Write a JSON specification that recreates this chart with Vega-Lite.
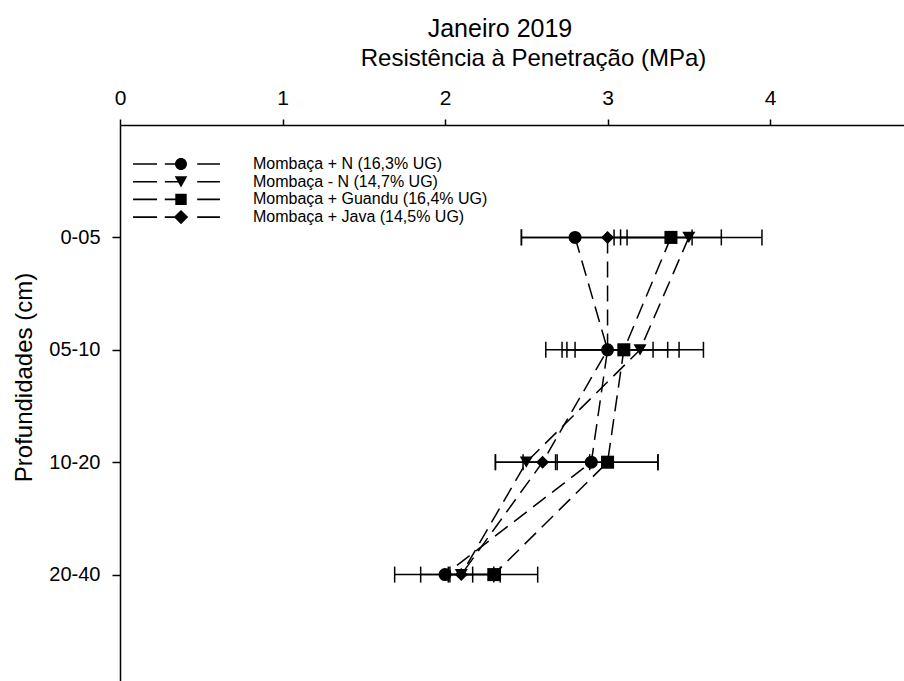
{
  "$schema": "https://vega.github.io/schema/vega-lite/v6.json",
  "description": "Resistência à penetração por profundidade - Janeiro 2019",
  "width": 784,
  "height": 562,
  "autosize": "none",
  "padding": {"left": 120, "top": 125, "right": 0, "bottom": 0},
  "title": {
    "text": "Janeiro 2019",
    "fontSize": 25,
    "fontWeight": "normal",
    "font": "Liberation Sans",
    "color": "black",
    "dx": -12
  },
  "data": {
    "values": [
      {"tratamento": "Mombaça + N (16,3% UG)", "profundidade": "0-05", "rp": 2.80, "rp_min": 2.47, "rp_max": 3.12},
      {"tratamento": "Mombaça + N (16,3% UG)", "profundidade": "05-10", "rp": 3.00, "rp_min": 2.62, "rp_max": 3.37},
      {"tratamento": "Mombaça + N (16,3% UG)", "profundidade": "10-20", "rp": 2.90, "rp_min": 2.48, "rp_max": 3.31},
      {"tratamento": "Mombaça + N (16,3% UG)", "profundidade": "20-40", "rp": 2.00, "rp_min": 1.69, "rp_max": 2.30},
      {"tratamento": "Mombaça - N (14,7% UG)", "profundidade": "0-05", "rp": 3.50, "rp_min": 3.04, "rp_max": 3.95},
      {"tratamento": "Mombaça - N (14,7% UG)", "profundidade": "05-10", "rp": 3.20, "rp_min": 2.80, "rp_max": 3.59},
      {"tratamento": "Mombaça - N (14,7% UG)", "profundidade": "10-20", "rp": 2.50, "rp_min": 2.31, "rp_max": 2.68},
      {"tratamento": "Mombaça - N (14,7% UG)", "profundidade": "20-40", "rp": 2.10, "rp_min": 2.03, "rp_max": 2.17},
      {"tratamento": "Mombaça + Guandu (16,4% UG)", "profundidade": "0-05", "rp": 3.39, "rp_min": 3.08, "rp_max": 3.70},
      {"tratamento": "Mombaça + Guandu (16,4% UG)", "profundidade": "05-10", "rp": 3.10, "rp_min": 2.75, "rp_max": 3.44},
      {"tratamento": "Mombaça + Guandu (16,4% UG)", "profundidade": "10-20", "rp": 3.00, "rp_min": 2.69, "rp_max": 3.31},
      {"tratamento": "Mombaça + Guandu (16,4% UG)", "profundidade": "20-40", "rp": 2.30, "rp_min": 2.02, "rp_max": 2.57},
      {"tratamento": "Mombaça + Java (14,5% UG)", "profundidade": "0-05", "rp": 3.00, "rp_min": 2.47, "rp_max": 3.52},
      {"tratamento": "Mombaça + Java (14,5% UG)", "profundidade": "05-10", "rp": 3.00, "rp_min": 2.72, "rp_max": 3.28},
      {"tratamento": "Mombaça + Java (14,5% UG)", "profundidade": "10-20", "rp": 2.60, "rp_min": 2.31, "rp_max": 2.89},
      {"tratamento": "Mombaça + Java (14,5% UG)", "profundidade": "20-40", "rp": 2.10, "rp_min": 1.85, "rp_max": 2.34}
    ]
  },
  "encoding": {
    "y": {
      "field": "profundidade",
      "type": "nominal",
      "scale": {"type": "point", "domain": ["0-05", "05-10", "10-20", "20-40"], "padding": 1},
      "axis": {
        "title": "Profundidades (cm)",
        "titleFontSize": 24,
        "titleFontWeight": "normal",
        "titleX": -89,
        "titleY": 252,
        "titleBaseline": "alphabetic",
        "titleAlign": "center",
        "titleAngle": -90,
        "labelFontSize": 20,
        "tickSize": 8,
        "labelPadding": 12,
        "grid": false
      }
    }
  },
  "layer": [
    {
      "mark": {"type": "rule", "stroke": "black", "strokeWidth": 1.5},
      "encoding": {
        "x": {
          "field": "rp_min",
          "type": "quantitative",
          "scale": {"domain": [0, 4.824], "nice": false, "zero": false},
          "axis": {
            "orient": "top",
            "values": [0, 1, 2, 3, 4],
            "title": "Resistência à Penetração (MPa)",
            "titleFontSize": 24,
            "titleFontWeight": "normal",
            "titleX": 413,
            "titleY": -60,
            "titleBaseline": "alphabetic",
            "labelFontSize": 21,
            "labelBaseline": "alphabetic",
            "labelPadding": 15,
            "labelFlush": false,
            "tickSize": 6,
            "grid": false
          }
        },
        "x2": {"field": "rp_max"},
        "detail": {"field": "tratamento"}
      }
    },
    {
      "mark": {"type": "tick", "color": "black", "opacity": 1, "size": 16, "thickness": 1.5},
      "encoding": {
        "x": {
          "field": "rp_min",
          "type": "quantitative",
          "scale": {"domain": [0, 4.824], "nice": false, "zero": false},
          "axis": {
            "orient": "top",
            "values": [0, 1, 2, 3, 4],
            "title": "Resistência à Penetração (MPa)",
            "titleFontSize": 24,
            "titleFontWeight": "normal",
            "titleX": 413,
            "titleY": -60,
            "titleBaseline": "alphabetic",
            "labelFontSize": 21,
            "labelBaseline": "alphabetic",
            "labelPadding": 15,
            "labelFlush": false,
            "tickSize": 6,
            "grid": false
          }
        }
      }
    },
    {
      "mark": {"type": "tick", "color": "black", "opacity": 1, "size": 16, "thickness": 1.5},
      "encoding": {
        "x": {
          "field": "rp_max",
          "type": "quantitative",
          "scale": {"domain": [0, 4.824], "nice": false, "zero": false},
          "axis": {
            "orient": "top",
            "values": [0, 1, 2, 3, 4],
            "title": "Resistência à Penetração (MPa)",
            "titleFontSize": 24,
            "titleFontWeight": "normal",
            "titleX": 413,
            "titleY": -60,
            "titleBaseline": "alphabetic",
            "labelFontSize": 21,
            "labelBaseline": "alphabetic",
            "labelPadding": 15,
            "labelFlush": false,
            "tickSize": 6,
            "grid": false
          }
        }
      }
    },
    {
      "mark": {"type": "line", "stroke": "black", "strokeWidth": 1.5, "strokeDash": [16, 8]},
      "encoding": {
        "x": {
          "field": "rp",
          "type": "quantitative",
          "scale": {"domain": [0, 4.824], "nice": false, "zero": false},
          "axis": {
            "orient": "top",
            "values": [0, 1, 2, 3, 4],
            "title": "Resistência à Penetração (MPa)",
            "titleFontSize": 24,
            "titleFontWeight": "normal",
            "titleX": 413,
            "titleY": -60,
            "titleBaseline": "alphabetic",
            "labelFontSize": 21,
            "labelBaseline": "alphabetic",
            "labelPadding": 15,
            "labelFlush": false,
            "tickSize": 6,
            "grid": false
          }
        },
        "detail": {"field": "tratamento"},
        "order": {"field": "profundidade", "type": "ordinal"}
      }
    },
    {
      "mark": {"type": "point", "filled": true, "color": "black", "opacity": 1, "size": 170},
      "encoding": {
        "x": {
          "field": "rp",
          "type": "quantitative",
          "scale": {"domain": [0, 4.824], "nice": false, "zero": false},
          "axis": {
            "orient": "top",
            "values": [0, 1, 2, 3, 4],
            "title": "Resistência à Penetração (MPa)",
            "titleFontSize": 24,
            "titleFontWeight": "normal",
            "titleX": 413,
            "titleY": -60,
            "titleBaseline": "alphabetic",
            "labelFontSize": 21,
            "labelBaseline": "alphabetic",
            "labelPadding": 15,
            "labelFlush": false,
            "tickSize": 6,
            "grid": false
          }
        },
        "shape": {
          "field": "tratamento",
          "type": "nominal",
          "scale": {
            "domain": ["Mombaça + N (16,3% UG)", "Mombaça - N (14,7% UG)", "Mombaça + Guandu (16,4% UG)", "Mombaça + Java (14,5% UG)"],
            "range": ["circle", "triangle-down", "square", "diamond"]
          },
          "legend": null
        }
      }
    },
    {
      "mark": {"type": "point", "filled": true, "color": "black", "opacity": 0, "size": 144},
      "encoding": {
        "x": {
          "field": "rp",
          "type": "quantitative",
          "scale": {"domain": [0, 4.824], "nice": false, "zero": false},
          "axis": {
            "orient": "top",
            "values": [0, 1, 2, 3, 4],
            "title": "Resistência à Penetração (MPa)",
            "titleFontSize": 24,
            "titleFontWeight": "normal",
            "titleX": 413,
            "titleY": -60,
            "titleBaseline": "alphabetic",
            "labelFontSize": 21,
            "labelBaseline": "alphabetic",
            "labelPadding": 15,
            "labelFlush": false,
            "tickSize": 6,
            "grid": false
          }
        },
        "shape": {
          "field": "tratamento",
          "type": "nominal",
          "scale": {
            "domain": ["Mombaça + N (16,3% UG)", "Mombaça - N (14,7% UG)", "Mombaça + Guandu (16,4% UG)", "Mombaça + Java (14,5% UG)"],
            "range": [
              "M1,0A1,1,0,1,1,-1,0A1,1,0,1,1,1,0ZM-8,-0.13H-4V0.13H-8ZM-2.7,-0.13H0V0.13H-2.7ZM2.7,-0.13H6.5V0.13H2.7Z",
              "M-1.05,-0.9L1.05,-0.9L0,0.95ZM-8,-0.13H-4V0.13H-8ZM-2.7,-0.13H0V0.13H-2.7ZM2.7,-0.13H6.5V0.13H2.7Z",
              "M-0.95,-0.95H0.95V0.95H-0.95ZM-8,-0.13H-4V0.13H-8ZM-2.7,-0.13H0V0.13H-2.7ZM2.7,-0.13H6.5V0.13H2.7Z",
              "M0,-1.2L1.2,0L0,1.2L-1.2,0ZM-8,-0.13H-4V0.13H-8ZM-2.7,-0.13H0V0.13H-2.7ZM2.7,-0.13H6.5V0.13H2.7Z"
            ]
          },
          "legend": {
            "orient": "none",
            "legendX": 53,
            "legendY": 31,
            "title": null,
            "labelFontSize": 16,
            "labelOffset": 64,
            "labelLimit": 0,
            "rowPadding": 1.7,
            "symbolSize": 144,
            "symbolOpacity": 1,
            "symbolFillColor": "black",
            "symbolStrokeWidth": 0
          }
        }
      }
    }
  ],
  "resolve": {"scale": {"shape": "independent"}},
  "config": {
    "font": "Liberation Sans",
    "view": {"stroke": null},
    "axis": {
      "domainColor": "black",
      "domainWidth": 1.5,
      "tickColor": "black",
      "tickWidth": 1.5,
      "labelColor": "black",
      "titleColor": "black",
      "labelFont": "Liberation Sans",
      "titleFont": "Liberation Sans"
    },
    "legend": {
      "labelColor": "black",
      "labelFont": "Liberation Sans"
    }
  }
}
